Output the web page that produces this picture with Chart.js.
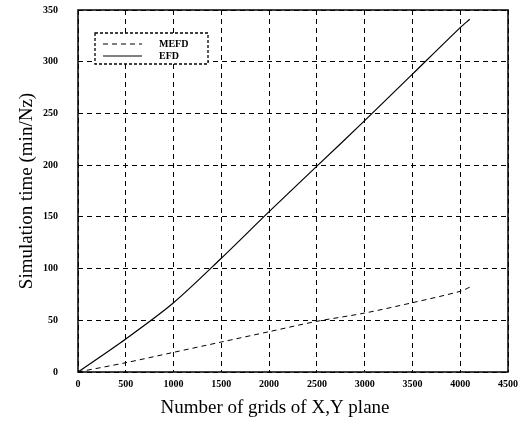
<!DOCTYPE html>
<html>
<head>
<meta charset="utf-8">
<script src="https://cdn.jsdelivr.net/npm/chart.js@4/dist/chart.umd.min.js"></script>
<style>
  html, body { margin: 0; padding: 0; background: #fff; }
  #wrap { width: 529px; height: 425px; }
</style>
</head>
<body>
<div id="wrap"><canvas id="simChart" width="529" height="425"></canvas></div>
<script>
// data
const gridCounts = [0, 500, 1000, 1500, 2000, 2500, 3000, 3500, 4000, 4100];
const mefdTime = [0, 9, 19, 29, 39, 49, 57, 67, 78, 82];
const efdTime  = [0, 32, 67, 110, 155, 199, 243, 288, 333, 341];
const seriesNames = ["MEFD", "EFD"];
const xTicks = [0, 500, 1000, 1500, 2000, 2500, 3000, 3500, 4000, 4500];
const yTicks = [0, 50, 100, 150, 200, 250, 300, 350];
const xTitle = "Number of grids of X,Y plane";
const yTitle = "Simulation time (min/Nz)";

function toPoints(ys) {
  return gridCounts.map((x, i) => ({ x: x, y: ys[i] }));
}

const serif = "'Liberation Serif', 'DejaVu Serif', serif";

// legend box drawn inside the plot, top-left
const boxLegend = {
  id: "boxLegend",
  afterDraw(chart) {
    const ctx = chart.ctx;
    const x0 = 95, y0 = 33, w = 113, h = 31;
    ctx.save();
    ctx.fillStyle = "#fff";
    ctx.fillRect(x0, y0, w, h);
    ctx.strokeStyle = "#000";
    ctx.lineWidth = 1.3;
    ctx.setLineDash([3, 2]);
    ctx.strokeRect(x0, y0, w, h);
    chart.data.datasets.forEach((ds, i) => {
      const y = y0 + 11 + i * 12;
      ctx.setLineDash(ds.borderDash || []);
      ctx.lineWidth = 1;
      ctx.beginPath();
      ctx.moveTo(x0 + 8, y);
      ctx.lineTo(x0 + 47, y);
      ctx.stroke();
      ctx.setLineDash([]);
      ctx.fillStyle = "#000";
      ctx.font = "bold 10px " + serif;
      ctx.textBaseline = "middle";
      ctx.fillText(ds.label, x0 + 64, y);
    });
    ctx.restore();
  }
};

// solid frame round the plot area + x title (sits a bit left of centre in the original)
const frame = {
  id: "frame",
  afterDatasetsDraw(chart) {
    const a = chart.chartArea, ctx = chart.ctx;
    ctx.save();
    ctx.strokeStyle = "#000";
    ctx.lineWidth = 1.5;
    ctx.setLineDash([]);
    ctx.strokeRect(a.left, a.top, a.right - a.left, a.bottom - a.top);
    ctx.fillStyle = "#000";
    ctx.font = "19px " + serif;
    ctx.textAlign = "center";
    ctx.textBaseline = "middle";
    ctx.fillText(xTitle, 275, 408);
    ctx.restore();
  }
};

new Chart(document.getElementById("simChart"), {
  type: "scatter",
  data: {
    datasets: [
      {
        label: seriesNames[0],
        data: toPoints(mefdTime),
        showLine: true,
        borderColor: "#000",
        borderWidth: 1,
        borderDash: [5, 4],
        pointRadius: 0,
        tension: 0.3
      },
      {
        label: seriesNames[1],
        data: toPoints(efdTime),
        showLine: true,
        borderColor: "#000",
        borderWidth: 1.2,
        pointRadius: 0,
        tension: 0.3
      }
    ]
  },
  options: {
    responsive: false,
    animation: false,
    layout: { padding: { top: 0, right: 21, left: 12, bottom: 0 } },
    plugins: {
      legend: { display: false },
      tooltip: { enabled: false }
    },
    scales: {
      x: {
        type: "linear",
        min: 0,
        max: 4500,
        afterBuildTicks(scale) { scale.ticks = xTicks.map(v => ({ value: v })); },
        afterFit(scale) { scale.height = 53; },
        grid: { color: "#000", lineWidth: 1, drawTicks: false },
        border: { display: false, dash: [5, 4] },
        ticks: {
          color: "#000",
          padding: 6,
          maxRotation: 0,
          callback: v => String(v),
          font: { family: serif, size: 10, weight: "bold" }
        }
      },
      y: {
        min: 0,
        max: 350,
        afterBuildTicks(scale) { scale.ticks = yTicks.map(v => ({ value: v })); },
        afterFit(scale) {
          scale.width = 66;
          // tick padding would otherwise push the plot top down
          scale.paddingTop = 10;
          scale.paddingBottom = 6;
        },
        grid: { color: "#000", lineWidth: 1, drawTicks: false },
        border: { display: false, dash: [5, 4] },
        ticks: {
          color: "#000",
          padding: 20,
          callback: v => String(v),
          font: { family: serif, size: 10, weight: "bold" }
        },
        title: {
          display: true,
          text: yTitle,
          color: "#000",
          padding: { bottom: 2 },
          font: { family: serif, size: 19 }
        }
      }
    }
  },
  plugins: [frame, boxLegend]
});
</script>
</body>
</html>
